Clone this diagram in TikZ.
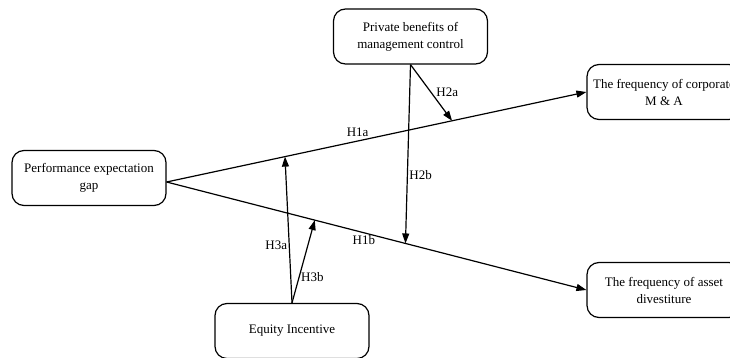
\documentclass[tikz,border=0pt]{standalone}
\usepackage{fontspec}
\setmainfont{Liberation Serif}
\usepackage{tikz}
\usetikzlibrary{arrows.meta,positioning,calc}
\tikzset{
  >={Triangle[length=10pt,width=7pt]},
  % modell
  bx/.style={draw=black,line width=1.2pt,rounded corners=12pt,fill=white,
             minimum width=154pt,minimum height=55pt,inner sep=0pt,align=center,
             font=\fontsize{13}{17}\selectfont},
  ar/.style={->,draw=black,line width=1.2pt},
  hl/.style={font=\fontsize{13}{15}\selectfont,inner sep=1.5pt},
}
\begin{document}
\begin{tikzpicture}[x=1pt,y=-1pt]
\useasboundingbox (0,0) rectangle (730,358);
  \node[bx] (peg) at (89,178) {Performance expectation\\gap};
  \node[bx] (pbc) at (410.5,36.5) {Private benefits of\\management control};
  \node[bx] (ma) at (664,92) {The frequency of corporate\\M \& A};
  \node[bx] (div) at (664,290) {The frequency of asset\\divestiture};
  \node[bx] (ei) at (292,331) {Equity Incentive};
  \coordinate (o) at ($(peg.east)+(0,4)$);
  \draw[ar] (o) -- node[hl,pos=0.455,above=2pt] {H1a} (ma.west);
  \draw[ar] (o) -- node[hl,pos=0.47,below=1pt] {H1b} (div.west);
  \coordinate (h2a) at ($(o)!0.68!(ma.west)$);
  \coordinate (h3a) at ($(o)!0.282!(ma.west)$);
  \coordinate (h2b) at ($(o)!0.569!(div.west)$);
  \coordinate (h3b) at ($(o)!0.353!(div.west)$);
  \draw[ar] (pbc.south) -- node[hl,pos=0.5,right=3pt] {H2a} (h2a);
  \draw[ar] (pbc.south) -- node[hl,pos=0.62,right=0pt] {H2b} (h2b);
  \draw[ar] (ei.north) -- node[hl,pos=0.395,left=0pt] {H3a} (h3a);
  \draw[ar] (ei.north) -- node[hl,pos=0.31,right=0pt] {H3b} (h3b);
\end{tikzpicture}
\end{document}
